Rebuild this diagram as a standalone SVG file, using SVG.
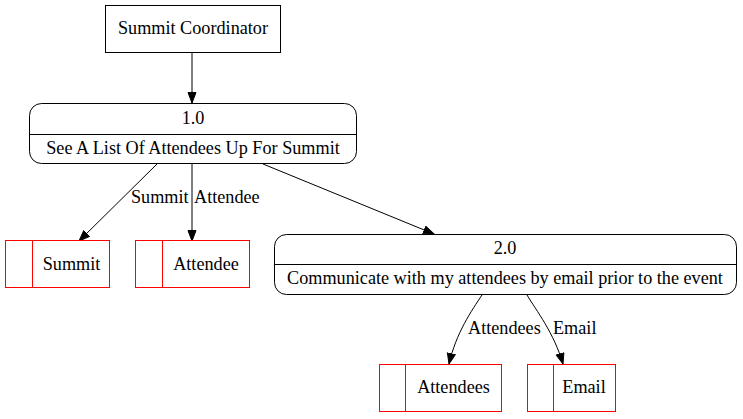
<svg xmlns="http://www.w3.org/2000/svg" width="743" height="419" viewBox="0 0 743 419">
<style>
text{font-family:"Liberation Serif","Times New Roman",serif;font-size:18.2px;fill:#000}
.c{text-anchor:middle}
.ent{fill:#fff;stroke:#000;stroke-width:1}
.proc{fill:#fff;stroke:#000;stroke-width:1}
.store{fill:#fff;stroke:#ff0000;stroke-width:1}
.edge{fill:none;stroke:#000;stroke-width:1}
</style>
<defs>
<marker id="ah" markerUnits="userSpaceOnUse" markerWidth="12" markerHeight="10" refX="11" refY="4.5" orient="auto">
<path d="M0.5,0.5 L11,4.5 L0.5,8.5 Z" fill="#000" stroke="#000"/>
</marker>
</defs>
<rect width="743" height="419" fill="#fff"/>
<g id="connectors">
<path class="edge" d="M192,53 L192,103" marker-end="url(#ah)"/>
<path class="edge" d="M157,164 L79,241" marker-end="url(#ah)"/>
<text x="131" y="203">Summit</text>
<path class="edge" d="M192,164 L192,241" marker-end="url(#ah)"/>
<text x="194" y="203">Attendee</text>
<path class="edge" d="M263,164 L434,234" marker-end="url(#ah)"/>
<path class="edge" d="M482,295 C472,310 456,333 449,364" marker-end="url(#ah)"/>
<text x="468" y="334">Attendees</text>
<path class="edge" d="M527,295 C536,310 554,333 563,364" marker-end="url(#ah)"/>
<text x="553" y="334">Email</text>
</g>
<g id="summit-coordinator">
<rect class="ent" x="105.5" y="5.5" width="175" height="47"/>
<text class="c" x="193" y="34">Summit Coordinator</text>
</g>
<g id="process-1">
<rect class="proc" x="29.5" y="103.5" width="327" height="60" rx="12"/>
<line class="proc" x1="29.5" y1="134.5" x2="356.5" y2="134.5"/>
<text class="c" x="193" y="124">1.0</text>
<text class="c" x="193" y="154">See A List Of Attendees Up For Summit</text>
</g>
<g id="store-summit">
<rect class="store" x="5.5" y="240.5" width="104" height="47"/>
<line class="store" x1="32.5" y1="240.5" x2="32.5" y2="287.5"/>
<text class="c" x="71.5" y="270">Summit</text>
</g>
<g id="store-attendee">
<rect class="store" x="135.5" y="240.5" width="114" height="47"/>
<line class="store" x1="162.5" y1="240.5" x2="162.5" y2="287.5"/>
<text class="c" x="206" y="270">Attendee</text>
</g>
<g id="process-2">
<rect class="proc" x="274.5" y="234.5" width="462" height="60" rx="12"/>
<line class="proc" x1="274.5" y1="264.5" x2="736.5" y2="264.5"/>
<text class="c" x="505" y="254">2.0</text>
<text class="c" x="505" y="284">Communicate with my attendees by email prior to the event</text>
</g>
<g id="store-attendees">
<rect class="store" x="379.5" y="364.5" width="122" height="47"/>
<line class="store" x1="405.5" y1="364.5" x2="405.5" y2="411.5"/>
<text class="c" x="453.5" y="393">Attendees</text>
</g>
<g id="store-email">
<rect class="store" x="527.5" y="364.5" width="88" height="47"/>
<line class="store" x1="553.5" y1="364.5" x2="553.5" y2="411.5"/>
<text class="c" x="584" y="393">Email</text>
</g>
</svg>
